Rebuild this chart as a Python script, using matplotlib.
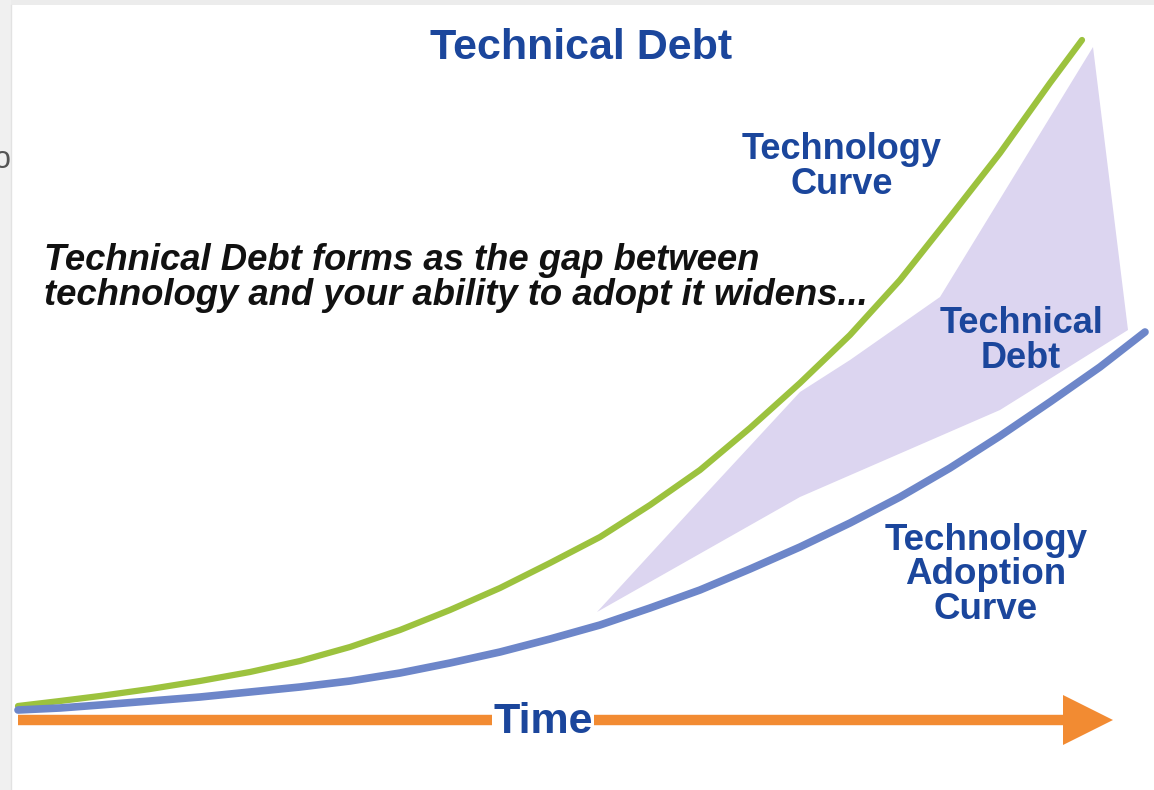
import numpy as np
import matplotlib
matplotlib.use("Agg")
import matplotlib.pyplot as plt

plt.rcParams['font.family'] = ['Liberation Sans', 'DejaVu Sans']

# values, in picture pixels (y grows downward)
tech_x = [18, 60, 100, 150, 200, 250, 300, 350, 400, 450, 500, 550, 600, 650, 700,
          750, 800, 850, 900, 950, 1000, 1050, 1082]
tech_y = [706, 701, 696, 689, 681, 672, 661, 647, 630, 610, 588, 563, 537, 505, 470,
          428, 383, 335, 280, 217, 153, 83, 40]

adopt_x = [18, 60, 100, 150, 200, 250, 300, 350, 400, 450, 500, 550, 600, 650, 700,
           750, 800, 850, 900, 950, 1000, 1050, 1100, 1145]
adopt_y = [710, 708, 705, 701, 697, 692, 687, 681, 673, 663, 652, 639, 625, 608, 590,
           569, 547, 523, 497, 468, 436, 402, 367, 332]

# technical debt wedge outline
debt_x = [597, 700, 800, 850, 940, 1093, 1128, 1000, 800]
debt_y = [612, 500, 392, 360, 297, 47, 330, 410, 497]

# time axis
time_x = [18, 1065]
time_y = [720, 720]
head_x = [1063, 1113, 1063]
head_y = [695, 720, 745]

BLUE_TXT = '#1b469c'
GREEN = '#9cc23e'
BLUE = '#6d86c9'
ORANGE = '#f28b32'
LAVENDER = '#dcd5f0'

fig = plt.figure(figsize=(11.54, 7.90), dpi=100)
fig.patch.set_facecolor('white')
ax = fig.add_axes([0, 0, 1, 1])
ax.set_xlim(0, 1154)
ax.set_ylim(790, 0)
ax.axis('off')

# page frame bits
ax.fill([0, 1154, 1154, 0], [0, 0, 5, 5], color='#ececec', lw=0)
ax.fill([0, 11, 11, 0], [0, 0, 790, 790], color='#f0f0f0', lw=0)
ax.plot([11, 11], [5, 790], color='#e2e2e2', lw=1)
ax.text(-6, 160, 'o', fontsize=22, color='#555555', ha='left', va='center', clip_on=True)

ax.fill(debt_x, debt_y, color=LAVENDER, lw=0, zorder=1)

ax.plot(tech_x, tech_y, color=GREEN, lw=4.5, solid_capstyle='round',
        solid_joinstyle='round', zorder=3)
ax.plot(adopt_x, adopt_y, color=BLUE, lw=5.5, solid_capstyle='round',
        solid_joinstyle='round', zorder=3)

ax.plot(time_x, time_y, color=ORANGE, lw=7.5, solid_capstyle='butt', zorder=2)
ax.fill(head_x, head_y, color=ORANGE, lw=0, zorder=2)
ax.text(543, 722, 'Time', fontsize=31, fontweight='bold', color=BLUE_TXT, ha='center', va='center',
        zorder=4, bbox=dict(facecolor='white', edgecolor='none', pad=0.5))

ax.text(581, 48, 'Technical Debt', fontsize=31, fontweight='bold', color=BLUE_TXT,
        ha='center', va='center')
ax.text(842, 167, 'Technology\nCurve', fontsize=26, fontweight='bold', color=BLUE_TXT,
        ha='center', va='center', linespacing=0.97)
ax.text(1021, 341, 'Technical\nDebt', fontsize=26, fontweight='bold', color=BLUE_TXT,
        ha='center', va='center', linespacing=0.97, zorder=4)
ax.text(986, 575, 'Technology\nAdoption\nCurve', fontsize=26.5, fontweight='bold', color=BLUE_TXT,
        ha='center', va='center', linespacing=0.99)
ax.text(44, 278, 'Technical Debt forms as the gap between\ntechnology and your ability to adopt it widens...',
        fontsize=26.3, fontweight='bold', fontstyle='italic', color='#111111',
        ha='left', va='center', linespacing=1.0)

fig.savefig('out.png', dpi=100)
